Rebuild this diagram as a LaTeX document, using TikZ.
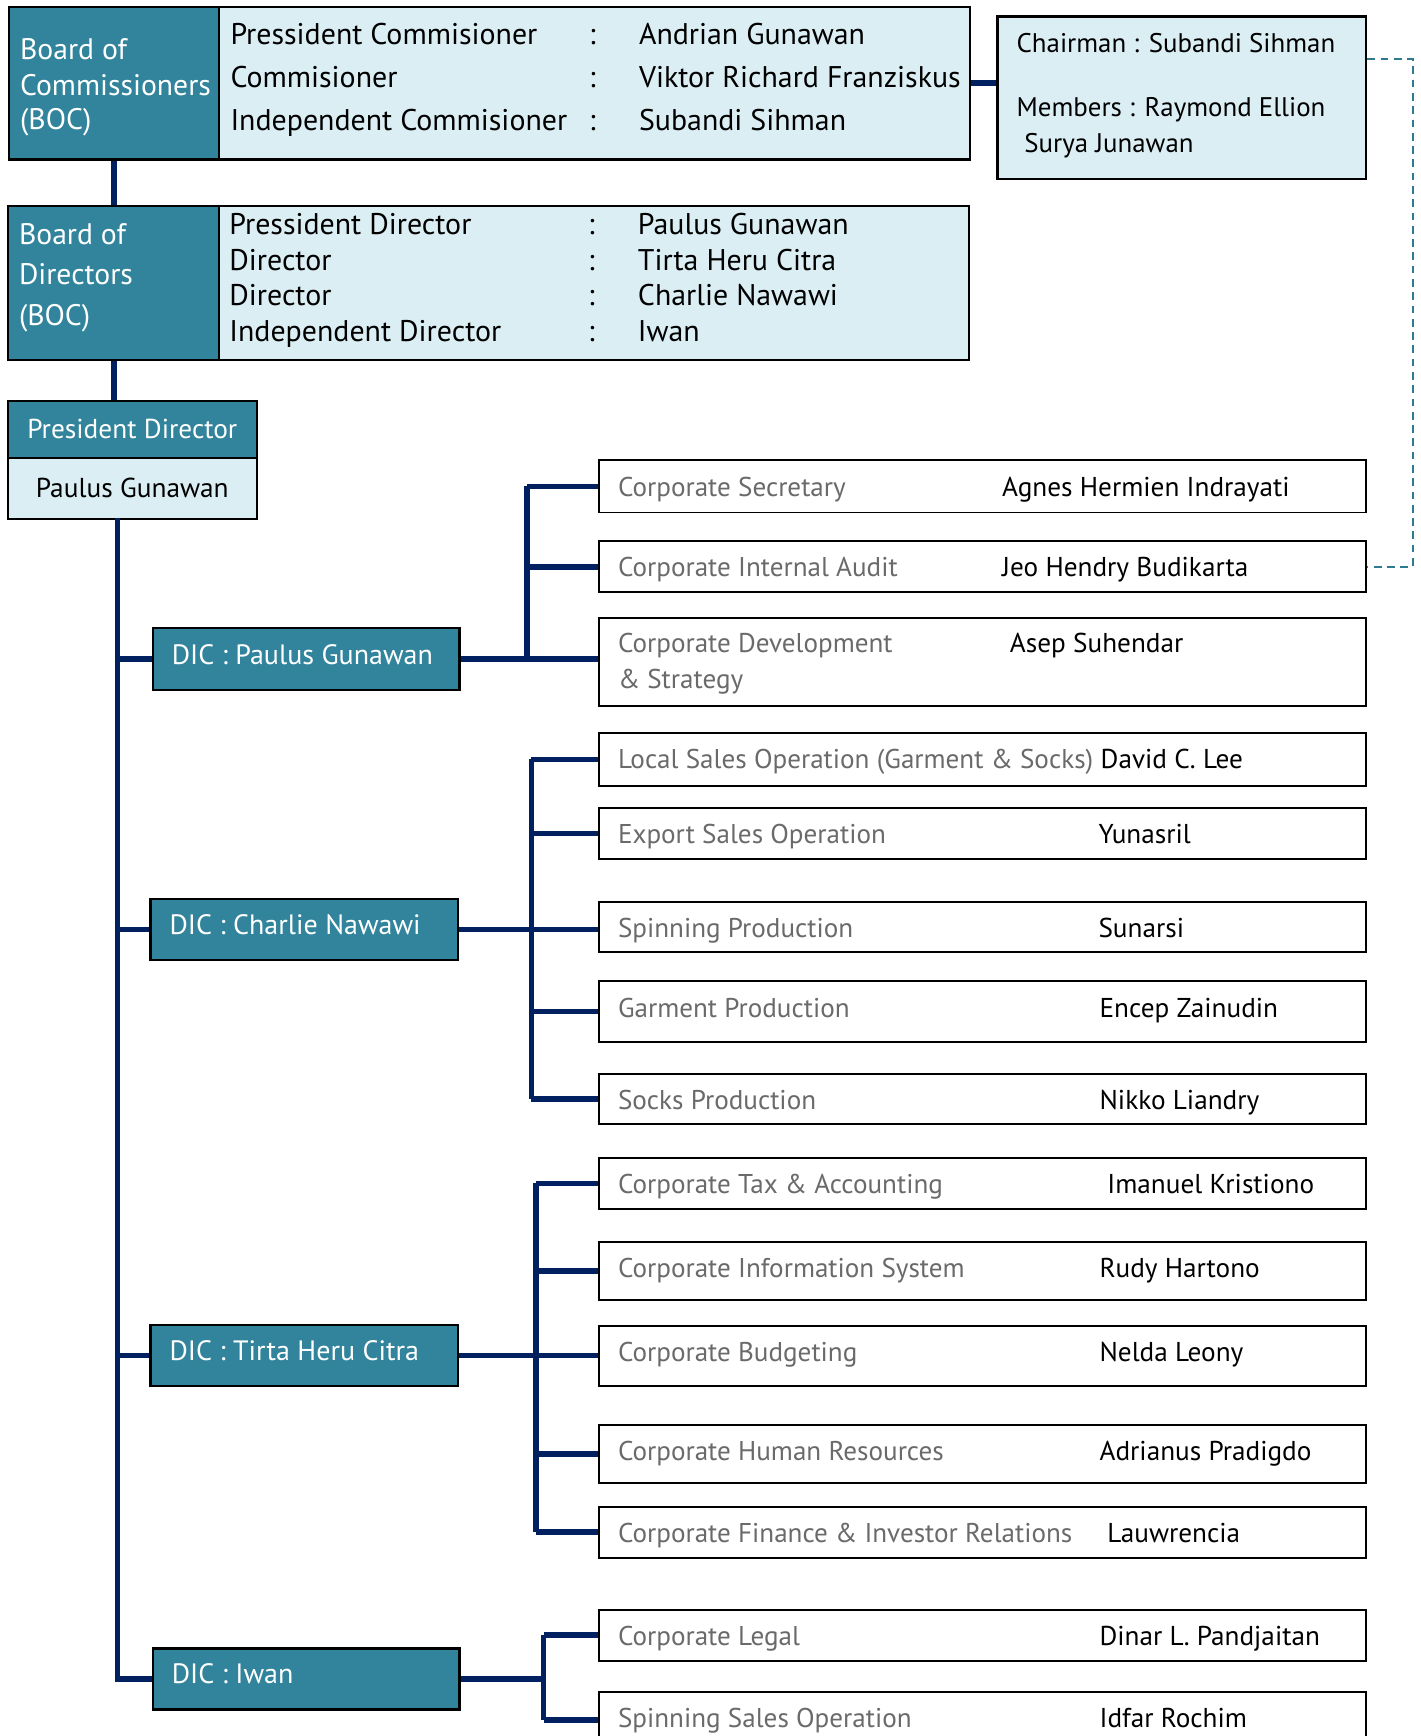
\documentclass[tikz,border=0pt]{standalone}
\usepackage{fontspec}
\setmainfont{PT Sans}
\definecolor{tealc}{HTML}{31849B}
\definecolor{lightc}{HTML}{DAEEF3}
\definecolor{navyc}{HTML}{002060}
\definecolor{grayc}{HTML}{6A6A6A}
\definecolor{dashc}{HTML}{2E7A90}
\tikzset{
 tealbox/.style={draw=black, line width=2pt, fill=tealc},
 lightbox/.style={draw=black, line width=2pt, fill=lightc},
 deptbox/.style={draw=black, line width=1.8pt, fill=white},
 conn/.style={draw=navyc, line width=5pt},
 dashconn/.style={draw=dashc, line width=1.8pt, dash pattern=on 7pt off 5pt},
 txt/.style={inner sep=0pt, text height=0.7em, text depth=0pt, anchor=west, yshift=-4.5pt},
 rowtxt/.style={txt, font=\fontsize{27}{30}\selectfont},
 headtxt/.style={txt, text=white, font=\fontsize{26.8}{30}\selectfont},
 comtxt/.style={txt, font=\fontsize{24.3}{28}\selectfont},
 pdtxt/.style={txt, anchor=center, font=\fontsize{24.7}{28}\selectfont},
 dictxt/.style={txt, text=white, font=\fontsize{25.3}{28}\selectfont},
 depttxt/.style={txt, text=grayc, font=\fontsize{24.5}{27}\selectfont},
 nametxt/.style={txt, font=\fontsize{24.6}{27}\selectfont},
}
\newcommand\rbox[6]{\node[#6, anchor=north west, inner sep=0pt, minimum width={(#4-#2)*1pt}, minimum height={(#5-#3)*1pt}] (#1) at (#2,#3) {};}
\newcommand\tx[5]{\node[#4] (#1) at (#2,#3) {#5};}
\begin{document}
\begin{tikzpicture}[x=1pt,y=-1pt]
\useasboundingbox (0,0) rectangle (1283,1568);
\clip (0,0) rectangle (1283,1568);
% ---------- boards ----------
\rbox{bocL}{7}{5}{197}{143}{tealbox}
\rbox{bocR}{197}{5}{875}{143}{lightbox}
\rbox{comm}{900}{14}{1233}{161}{lightbox}
\rbox{bodL}{6}{185}{197}{324}{tealbox}
\rbox{bodR}{197}{185}{874}{324}{lightbox}
\rbox{pdT}{6}{361}{231}{413}{tealbox}
\rbox{pdB}{6}{413}{231}{468}{lightbox}
% ---------- DIC boxes ----------
\rbox{dicP}{137}{566}{414}{622}{tealbox}
\rbox{dicC}{135}{811}{413}{866}{tealbox}
\rbox{dicT}{135}{1196}{413}{1251}{tealbox}
\rbox{dicI}{137}{1488}{414}{1543}{tealbox}
% ---------- department boxes ----------
\rbox{dcs}{540}{415}{1233}{462}{deptbox}
\rbox{dia}{540}{488}{1233}{534}{deptbox}
\rbox{dcd}{540}{557}{1233}{637}{deptbox}
\rbox{dls}{540}{661}{1233}{709}{deptbox}
\rbox{des}{540}{729}{1233}{775}{deptbox}
\rbox{dsp}{540}{814}{1233}{859}{deptbox}
\rbox{dgp}{540}{885}{1233}{940}{deptbox}
\rbox{dso}{540}{969}{1233}{1014}{deptbox}
\rbox{dta}{540}{1045}{1233}{1091}{deptbox}
\rbox{dis}{540}{1121}{1233}{1173}{deptbox}
\rbox{dbu}{540}{1197}{1233}{1251}{deptbox}
\rbox{dhr}{540}{1286}{1233}{1339}{deptbox}
\rbox{dfi}{540}{1360}{1233}{1406}{deptbox}
\rbox{dle}{540}{1453}{1233}{1499}{deptbox}
\rbox{dss}{540}{1527}{1233}{1578}{deptbox}
% ---------- texts: BOC ----------
\tx{tb1}{18}{46}{headtxt}{Board of}
\tx{tb2}{18}{78}{headtxt}{Commissioners}
\tx{tb3}{18}{109}{headtxt}{(BOC)}
\tx{c1a}{208}{32}{rowtxt}{Pressident Commisioner}
\tx{c1b}{532}{32}{rowtxt}{:}
\tx{c1c}{577}{32}{rowtxt}{Andrian Gunawan}
\tx{c2a}{208}{71}{rowtxt}{Commisioner}
\tx{c2b}{532}{71}{rowtxt}{:}
\tx{c2c}{577}{71}{rowtxt}{Viktor Richard Franziskus}
\tx{c3a}{208}{110}{rowtxt}{Independent Commisioner}
\tx{c3b}{532}{110}{rowtxt}{:}
\tx{c3c}{577}{110}{rowtxt}{Subandi Sihman}
\tx{cm1}{918}{39}{comtxt}{Chairman : Subandi Sihman}
\tx{cm2}{918}{97}{comtxt}{Members : Raymond Ellion}
\tx{cm3}{925}{130}{comtxt}{Surya Junawan}
% ---------- texts: BOD ----------
\tx{td1}{17}{213}{headtxt}{Board of}
\tx{td2}{17}{249}{headtxt}{Directors}
\tx{td3}{17}{286}{headtxt}{(BOC)}
\tx{d1a}{207}{204}{rowtxt}{Pressident Director}
\tx{d1b}{531}{204}{rowtxt}{:}
\tx{d1c}{576}{204}{rowtxt}{Paulus Gunawan}
\tx{d2a}{207}{236}{rowtxt}{Director}
\tx{d2b}{531}{236}{rowtxt}{:}
\tx{d2c}{576}{236}{rowtxt}{Tirta Heru Citra}
\tx{d3a}{207}{268}{rowtxt}{Director}
\tx{d3b}{531}{268}{rowtxt}{:}
\tx{d3c}{576}{268}{rowtxt}{Charlie Nawawi}
\tx{d4a}{207}{300}{rowtxt}{Independent Director}
\tx{d4b}{531}{300}{rowtxt}{:}
\tx{d4c}{576}{300}{rowtxt}{Iwan}
% ---------- President director ----------
\node[pdtxt, text=white] (pdt1) at (pdT.center) {President Director};
\node[pdtxt] (pdt2) at (pdB.center) {Paulus Gunawan};
% ---------- DIC texts ----------
\tx{tp}{155}{592}{dictxt}{DIC : Paulus Gunawan}
\tx{tc}{153}{836}{dictxt}{DIC : Charlie Nawawi}
\tx{tt}{153}{1221}{dictxt}{DIC : Tirta Heru Citra}
\tx{ti}{155}{1513}{dictxt}{DIC : Iwan}
% ---------- department texts ----------
\tx{l1}{558}{440}{depttxt}{Corporate Secretary}
\tx{n1}{905}{440}{nametxt}{Agnes Hermien Indrayati}
\tx{l2}{558}{513}{depttxt}{Corporate Internal Audit}
\tx{n2}{905}{513}{nametxt}{Jeo Hendry Budikarta}
\tx{l3a}{558}{581}{depttxt}{Corporate Development}
\tx{l3b}{558}{614}{depttxt}{\& Strategy}
\tx{n3}{912}{581}{nametxt}{Asep Suhendar}
\tx{l4}{558}{686}{depttxt}{Local Sales Operation (Garment \& Socks)}
\tx{n4}{994}{686}{nametxt}{David C. Lee}
\tx{l5}{558}{754}{depttxt}{Export Sales Operation}
\tx{n5}{992}{754}{nametxt}{Yunasril}
\tx{l6}{558}{839}{depttxt}{Spinning Production}
\tx{n6}{992}{839}{nametxt}{Sunarsi}
\tx{l7}{558}{911}{depttxt}{Garment Production}
\tx{n7}{993}{911}{nametxt}{Encep Zainudin}
\tx{l8}{558}{994}{depttxt}{Socks Production}
\tx{n8}{993}{994}{nametxt}{Nikko Liandry}
\tx{l9}{558}{1070}{depttxt}{Corporate Tax \& Accounting}
\tx{n9}{1000}{1070}{nametxt}{Imanuel Kristiono}
\tx{l10}{558}{1146}{depttxt}{Corporate Information System}
\tx{n10}{993}{1146}{nametxt}{Rudy Hartono}
\tx{l11}{558}{1222}{depttxt}{Corporate Budgeting}
\tx{n11}{993}{1222}{nametxt}{Nelda Leony}
\tx{l12}{558}{1311}{depttxt}{Corporate Human Resources}
\tx{n12}{993}{1311}{nametxt}{Adrianus Pradigdo}
\tx{l13}{558}{1385}{depttxt}{Corporate Finance \& Investor Relations}
\tx{n13}{1000}{1385}{nametxt}{Lauwrencia}
\tx{l14}{558}{1478}{depttxt}{Corporate Legal}
\tx{n14}{993}{1478}{nametxt}{Dinar L. Pandjaitan}
\tx{l15}{558}{1552}{depttxt}{Spinning Sales Operation}
\tx{n15}{993}{1552}{nametxt}{Idfar Rochim}
% ---------- connectors ----------
\coordinate (spine) at (106,468);
\coordinate (busP) at (476,0);
\coordinate (busC) at (480,0);
\coordinate (busT) at (484,0);
\coordinate (busI) at (491,0);
\coordinate (dashR) at (1276,53);
\draw[conn] (bocL.south -| 103,0) -- (bodL.north -| 103,0);
\draw[conn] (bodL.south -| 103,0) -- (pdT.north -| 103,0);
\draw[conn] (bocR.east) -- (comm.west |- bocR.east);
\draw[dashconn] (comm.east |- dashR) -- (dashR) |- (dia.east);
\draw[conn] (spine) |- (dicI.west);
\draw[conn] (spine |- dicP.west) -- (dicP.west);
\draw[conn] (spine |- dicC.west) -- (dicC.west);
\draw[conn] (spine |- dicT.west) -- (dicT.west);
% Paulus group
\draw[conn] (dicP.east) -- (dicP.east -| dcd.west);
\draw[conn] (busP |- dcs.west) -- (busP |- dicP.east);
\draw[conn] (busP |- dcs.west) -- (dcs.west);
\draw[conn] (busP |- dia.west) -- (dia.west);
% Charlie group
\draw[conn] (dicC.east) -- (dicC.east -| dsp.west);
\draw[conn] (busC |- dls.west) -- (busC |- dso.west);
\draw[conn] (busC |- dls.west) -- (dls.west);
\draw[conn] (busC |- des.west) -- (des.west);
\draw[conn] (busC |- dgp.west) -- (dgp.west);
\draw[conn] (busC |- dso.west) -- (dso.west);
% Tirta group
\draw[conn] (dicT.east) -- (dicT.east -| dbu.west);
\draw[conn] (busT |- dta.west) -- (busT |- dfi.west);
\draw[conn] (busT |- dta.west) -- (dta.west);
\draw[conn] (busT |- dis.west) -- (dis.west);
\draw[conn] (busT |- dhr.west) -- (dhr.west);
\draw[conn] (busT |- dfi.west) -- (dfi.west);
% Iwan group
\draw[conn] (dicI.east) -- (dicI.east -| busI);
\draw[conn] (busI |- dle.west) -- (busI |- dss.west);
\draw[conn] (busI |- dle.west) -- (dle.west);
\draw[conn] (busI |- dss.west) -- (dss.west);
\end{tikzpicture}
\end{document}
